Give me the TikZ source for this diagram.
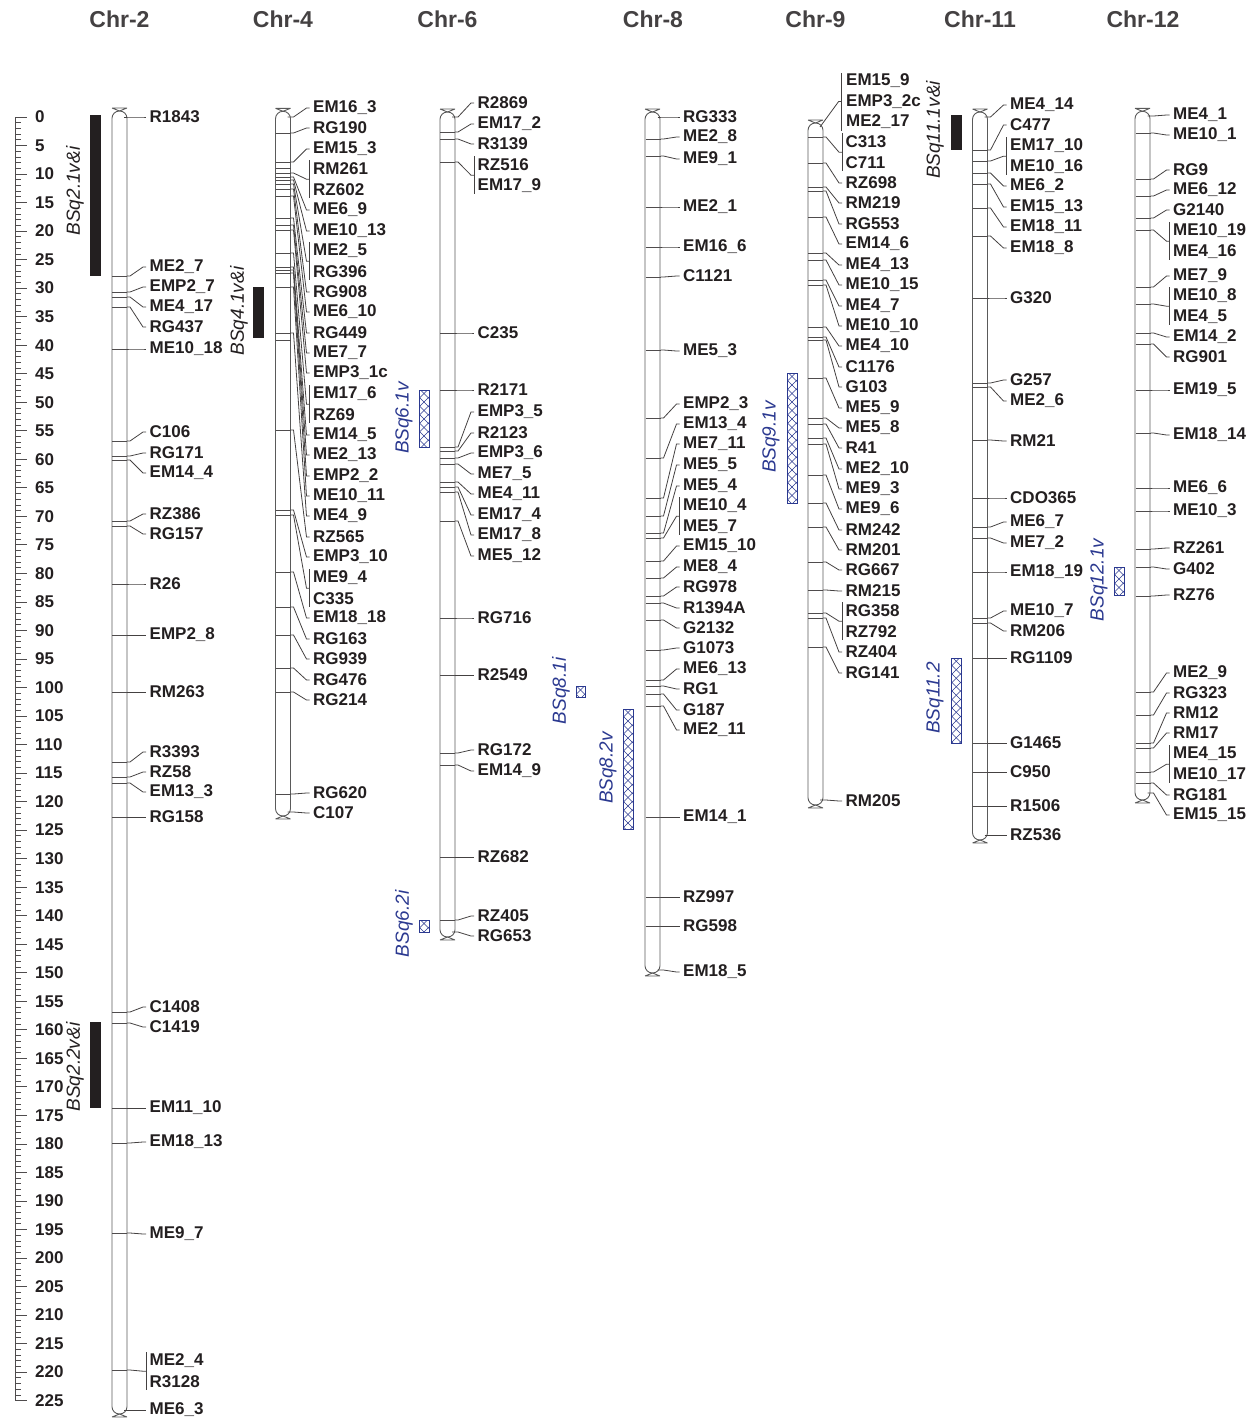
\documentclass[tikz,border=0pt]{standalone}
\usepackage{fontspec}
\setmainfont{Liberation Sans}
\usetikzlibrary{positioning}

\definecolor{ink}{RGB}{35,31,32}
\definecolor{chrgray}{RGB}{90,90,90}
\definecolor{qtlblue}{RGB}{43,57,144}

\tikzset{
    chrline/.style={draw=chrgray, line width=0.9pt},
    tickline/.style={draw=ink!80, line width=0.8pt},
    conn/.style={draw=ink!85, line width=0.8pt},
    lbl/.style={anchor=west, inner sep=0pt, text=ink,
        font=\fontsize{17}{19}\selectfont\bfseries},
    ttl/.style={inner sep=0pt, text=ink!85,
        font=\fontsize{23}{26}\selectfont\bfseries},
    rulernum/.style={anchor=west, inner sep=0pt, text=ink,
        font=\fontsize{17}{19}\selectfont\bfseries},
    qtlname/.style={rotate=90, inner sep=0pt, text=qtlblue,
        font=\fontsize{19}{21}\selectfont\itshape},
    qtlblack/.style={qtlname, text=ink},
    hatch/.style={draw=qtlblue, line width=0.5pt},
    qtlframe/.style={draw=qtlblue, line width=0.9pt},
    solidbar/.style={fill=ink, draw=none}
}

% chromosome body: left x, top bar, bottom bar
\newcommand{\chromo}[3]{%
    \draw[chrline, rounded corners=7.4pt] (#1,#2+3) rectangle (#1+15,#3-3);
    \draw[chrline] (#1,#2) -- (#1+15,#2) (#1,#2) -- (#1+7.5,#2+3) -- (#1+15,#2);
    \draw[chrline] (#1,#3) -- (#1+15,#3) (#1,#3) -- (#1+7.5,#3-3) -- (#1+15,#3);
}
% marker: right x, tick y, label y, name
\newcommand{\mk}[4]{%
    \draw[tickline] (#1-15,#2) -- (#1,#2);
    \draw[conn] (#1,#2) -- (#1+3,#2) -- (#1+16,#3) -- (#1+19,#3);
    \node[lbl] at (#1+22.5,#3) {#4};
}
% marker at a chromosome end (no tick across)
\newcommand{\mkend}[4]{%
    \draw[conn] (#1-3,#2) -- (#1+3,#2) -- (#1+16,#3) -- (#1+19,#3);
    \node[lbl] at (#1+22.5,#3) {#4};
}
% two markers on one position, with a bracket
\newcommand{\mkb}[5]{%
    \draw[tickline] (#1-15,#2) -- (#1,#2);
    \draw[conn] (#1,#2) -- (#1+3,#2) -- (#1+16,#3+10.2) -- (#1+19,#3+10.2);
    \draw[conn] (#1+19,#3-9) -- (#1+19,#3+29.4);
    \node[lbl] at (#1+22.5,#3) {#4};
    \node[lbl] at (#1+22.5,#3+20.4) {#5};
}
% hatched QTL box
\newcommand{\qbox}[4]{%
    \begin{scope}
        \clip (#1,#2) rectangle (#3,#4);
        \pgfmathsetmacro{\qw}{#3-#1}
        \pgfmathsetmacro{\qs}{#2-\qw}
        \pgfmathsetmacro{\qn}{\qs+8.5}
        \foreach \k in {\qs,\qn,...,#4} {
            \draw[hatch] (#1,\k) -- (#3,\k+\qw);
            \draw[hatch] (#1,\k+\qw) -- (#3,\k);
        }
    \end{scope}
    \draw[qtlframe] (#1,#2) rectangle (#3,#4);
}

\begin{document}
\begin{tikzpicture}[x=1pt, y=-1pt]
    \useasboundingbox (0,0) rectangle (1254,1422);

    % titles
    \node[ttl] (t2) at (119.5,19) {Chr-2};
    \node[ttl] (t4) at (283,19) {Chr-4};
    \node[ttl] (t6) at (447.5,19) {Chr-6};
    \node[ttl] (t8) at (653,19) {Chr-8};
    \node[ttl] (t9) at (815.5,19) {Chr-9};
    \node[ttl] (t11) at (980,19) {Chr-11};
    \node[ttl] (t12) at (1143,19) {Chr-12};

    % cM ruler
    \draw[tickline] (15,117) -- (15,1400.6);
    \foreach \c in {0,...,225} {
        \pgfmathsetmacro{\ry}{117+5.705*\c}
        \pgfmathsetmacro{\rl}{mod(\c,5)==0 ? 12 : 6}
        \draw[tickline] (15,\ry) -- (15+\rl,\ry);
    }
    \foreach \c in {0,5,...,225} {
        \node[rulernum] at (35,117+5.705*\c) {\c};
    }

    % Chr-2
    \chromo{112}{108}{1417}
    \mkend{127}{117}{117}{R1843}
    \foreach \tk/\ly/\tx in {276/267/ME2\_7, 292/287/EMP2\_7, 297/307/ME4\_17,
        307/327/RG437, 349/349/ME10\_18, 441/432/C106, 456/453/RG171,
        460/473/EM14\_4, 521/514/RZ386, 526/534/RG157, 584/584/R26,
        635/635/EMP2\_8, 692/692/RM263, 762/752/R3393, 777/772/RZ58,
        783/792/EM13\_3, 817/817/RG158, 1012/1007/C1408, 1023/1027/C1419,
        1108/1108/EM11\_10, 1143/1142/EM18\_13, 1233/1234/ME9\_7}
        {\mk{127}{\tk}{\ly}{\tx}}
    \mkb{127}{1370}{1361}{ME2\_4}{R3128}
    \mkend{127}{1410}{1410}{ME6\_3}
    \fill[solidbar] (90,115) rectangle (101,276);
    \node[qtlblack] at (75,191) {BSq2.1v\&i};
    \fill[solidbar] (90,1022) rectangle (101,1108);
    \node[qtlblack] at (75,1067) {BSq2.2v\&i};

    % Chr-4
    \chromo{275.5}{108.3}{819}
    \mkend{290.5}{117}{108}{EM16\_3}
    \foreach \tk/\ly/\tx in {133/128/RG190, 162/149/EM15\_3}
        {\mk{290.5}{\tk}{\ly}{\tx}}
    \draw[tickline] (275.5,168) -- (290.5,168);
    \mkb{290.5}{173}{169}{RM261}{RZ602}
    \foreach \tk/\ly/\tx in {177/210/ME6\_9, 180/231/ME10\_13}
        {\mk{290.5}{\tk}{\ly}{\tx}}
    \mkb{290.5}{184}{251}{ME2\_5}{RG396}
    \foreach \tk/\ly/\tx in {189/292/RG908, 196/312/ME6\_10, 218/333/RG449,
        225/353/ME7\_7, 230/373/EMP3\_1c}
        {\mk{290.5}{\tk}{\ly}{\tx}}
    \mkb{290.5}{253}{394}{EM17\_6}{RZ69}
    \foreach \tk/\ly/\tx in {267/435/EM14\_5, 270/455/ME2\_13, 273/476/EMP2\_2,
        287/496/ME10\_11, 333/516/ME4\_9, 430/537/RZ565, 510/557/EMP3\_10}
        {\mk{290.5}{\tk}{\ly}{\tx}}
    \draw[tickline] (275.5,340) -- (290.5,340);
    \mkb{290.5}{515}{578}{ME9\_4}{C335}
    \foreach \tk/\ly/\tx in {572/618/EM18\_18, 607/639/RG163, 635/659/RG939,
        668/680/RG476, 692/700/RG214, 794/793/RG620}
        {\mk{290.5}{\tk}{\ly}{\tx}}
    \mkend{290.5}{812}{813}{C107}
    \fill[solidbar] (253,287) rectangle (264,338);
    \node[qtlblack] at (239,311) {BSq4.1v\&i};

    % Chr-6
    \chromo{440}{109}{940}
    \mkend{455}{117}{103}{R2869}
    \foreach \tk/\ly/\tx in {132/124/EM17\_2, 139/144/R3139}
        {\mk{455}{\tk}{\ly}{\tx}}
    \mkb{455}{162}{165}{RZ516}{EM17\_9}
    \foreach \tk/\ly/\tx in {333/333/C235, 390/390/R2171, 447/412/EMP3\_5,
        451/433/R2123, 458/453/EMP3\_6, 464/474/ME7\_5, 482/494/ME4\_11,
        487/515/EM17\_4, 492/535/EM17\_8, 521/556/ME5\_12, 618/618/RG716,
        675/675/R2549, 753/750/RG172, 765/771/EM14\_9, 857/857/RZ682,
        920/916/RZ405}
        {\mk{455}{\tk}{\ly}{\tx}}
    \mkend{455}{932}{936}{RG653}
    \qbox{419}{390}{429}{447}
    \node[qtlname] at (404,418) {BSq6.1v};
    \qbox{419}{920}{429}{932}
    \node[qtlname] at (404,924) {BSq6.2i};

    % Chr-8
    \chromo{645}{109}{976}
    \mkend{660.5}{117}{117}{RG333}
    \foreach \tk/\ly/\tx in {139/137/ME2\_8, 156/159/ME9\_1, 207/207/ME2\_1,
        247/247/EM16\_6, 277/276/C1121, 350/351/ME5\_3, 418/404/EMP2\_3,
        458/424/EM13\_4, 498/444/ME7\_11, 516/465/ME5\_5, 533/486/ME5\_4}
        {\mk{660.5}{\tk}{\ly}{\tx}}
    \mkb{660.5}{538}{506}{ME10\_4}{ME5\_7}
    \foreach \tk/\ly/\tx in {561/546/EM15\_10, 578/567/ME8\_4, 596/587/RG978,
        603/608/R1394A, 620/628/G2132, 650/648/G1073, 680/669/ME6\_13,
        686/689/RG1, 694/710/G187, 706/730/ME2\_11, 817/817/EM14\_1,
        897/897/RZ997, 926/926/RG598}
        {\mk{660.5}{\tk}{\ly}{\tx}}
    \mkend{660.5}{970}{972}{EM18\_5}
    \qbox{576}{686}{585}{697}
    \node[qtlname] at (561,691) {BSq8.1i};
    \qbox{623}{709}{633}{829}
    \node[qtlname] at (608,768) {BSq8.2v};

    % Chr-9
    \chromo{808}{120}{808}
    \draw[conn] (820,127) -- (838.7,101.4) -- (841.7,101.4);
    \draw[conn] (841.7,73) -- (841.7,131);
    \node[lbl] at (846,81) {EM15\_9};
    \node[lbl] at (846,101.4) {EMP3\_2c};
    \node[lbl] at (846,121.8) {ME2\_17};
    \mkb{823}{137}{142}{C313}{C711}
    \foreach \tk/\ly/\tx in {163/183/RZ698, 187/203/RM219, 191/224/RG553,
        217/244/EM14\_6, 253/265/ME4\_13, 260/285/ME10\_15, 280/306/ME4\_7,
        285/326/ME10\_10, 327/346/ME4\_10, 337/367/C1176, 340/387/G103,
        378/408/ME5\_9, 418/428/ME5\_8, 424/448/R41, 438/469/ME2\_10,
        444/489/ME9\_3, 475/509/ME9\_6, 503/530/RM242, 527/550/RM201,
        562/570/RG667, 590/591/RM215}
        {\mk{823}{\tk}{\ly}{\tx}}
    \mkb{823}{613}{611}{RG358}{RZ792}
    \foreach \tk/\ly/\tx in {618/652/RZ404, 647/673/RG141}
        {\mk{823}{\tk}{\ly}{\tx}}
    \mkend{823}{800}{801}{RM205}
    \qbox{787}{373}{797}{503}
    \node[qtlname] at (771,437) {BSq9.1v};

    % Chr-11
    \chromo{972.5}{109}{843}
    \mkend{987.5}{117}{105}{ME4\_14}
    \mk{987.5}{150}{125}{C477}
    \mkb{987.5}{161}{146}{EM17\_10}{ME10\_16}
    \foreach \tk/\ly/\tx in {173/186/ME6\_2, 184/207/EM15\_13, 208/227/EM18\_11,
        236/248/EM18\_8, 298/298/G320, 383/380/G257, 387/401/ME2\_6,
        440/441/RM21, 498/498/CDO365, 527/522/ME6\_7, 538/543/ME7\_2,
        572/572/EM18\_19, 618/611/ME10\_7, 623/631/RM206, 658/658/RG1109,
        743/743/G1465, 772/772/C950, 806/806/R1506}
        {\mk{987.5}{\tk}{\ly}{\tx}}
    \mkend{987.5}{835}{835}{RZ536}
    \fill[solidbar] (951,115) rectangle (961.5,150);
    \node[qtlblack] at (935,130) {BSq11.1v\&i};
    \qbox{951}{658}{961.5}{743}
    \node[qtlname] at (935,698) {BSq11.2};

    % Chr-12
    \chromo{1135}{108.3}{803}
    \mkend{1150.5}{116}{115}{ME4\_1}
    \foreach \tk/\ly/\tx in {133/135/ME10\_1, 179/170/RG9, 196/190/ME6\_12,
        218/210/G2140}
        {\mk{1150.5}{\tk}{\ly}{\tx}}
    \mkb{1150.5}{230}{231}{ME10\_19}{ME4\_16}
    \mk{1150.5}{287}{276}{ME7\_9}
    \mkb{1150.5}{304}{296}{ME10\_8}{ME4\_5}
    \foreach \tk/\ly/\tx in {333/337/EM14\_2, 344/357/RG901, 390/390/EM19\_5,
        433/435/EM18\_14, 488/488/ME6\_6, 511/511/ME10\_3, 549/548/RZ261,
        567/569/G402, 596/595/RZ76, 692/673/ME2\_9, 715/693/RG323,
        743/713/RM12, 748/733/RM17}
        {\mk{1150.5}{\tk}{\ly}{\tx}}
    \mkb{1150.5}{772}{754}{ME4\_15}{ME10\_17}
    \mk{1150.5}{783}{795}{RG181}
    \mkend{1150.5}{793}{815}{EM15\_15}
    \qbox{1114}{567}{1124}{595}
    \node[qtlname] at (1099,580) {BSq12.1v};
\end{tikzpicture}
\end{document}
